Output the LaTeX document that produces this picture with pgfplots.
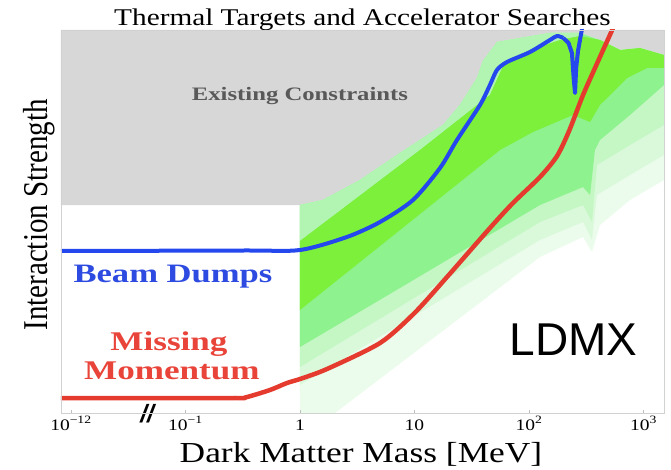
\documentclass[border=0pt]{standalone}
\usepackage{pgfplots}
\pgfplotsset{compat=1.18}
\usepackage{fontspec}
\setmainfont{Liberation Serif}
\newfontfamily\srf{Liberation Serif}[FakeStretch=1.22]
\newfontfamily\bsrf{Liberation Serif}[FakeStretch=1.3]
\newfontfamily\sans{Liberation Sans}
\definecolor{cgray}{HTML}{D7D7D7}
\definecolor{gbright}{HTML}{7CF03A}
\definecolor{gmed}{HTML}{8EF28E}
\definecolor{gband}{HTML}{B2F5B2}
\definecolor{gtwo}{HTML}{C4F7C4}
\definecolor{gthree}{HTML}{DAF9DA}
\definecolor{gfour}{HTML}{ECFCEC}
\definecolor{cblue}{HTML}{2448EE}
\definecolor{cred}{HTML}{E53A2E}
\definecolor{tblue}{HTML}{2D4BE0}
\definecolor{tred}{HTML}{E8443A}
\begin{document}
\begin{tikzpicture}
\begin{axis}[name=ax, scale only axis, width=603pt, height=383pt,
  xmin=-2.087, xmax=3.179, ymin=0, ymax=383,
  axis line style={draw=black!18, line width=0.8pt},
  ytick=\empty, xtick pos=bottom,
  xtick={-2,-1,0,1,2,3},
  xticklabels={{10\textsuperscript{−12}},{10\textsuperscript{−1}},{1},{10},{10\textsuperscript{2}},{10\textsuperscript{3}}},
  xticklabel style={anchor=base, yshift=-17pt, font={\srf\fontsize{16}{18}\selectfont}},
  tick style={draw=black!25}, major tick length=3pt,
  clip mode=individual, axis on top]
% existing constraints
\addplot[fill=cgray, draw=none] coordinates {(-2.087,208) (0,208) (0.20,213) (0.524,233) (0.873,260) (1.249,288) (1.397,308) (1.546,335) (1.598,352) (1.721,371) (1.921,375) (2.183,380) (2.445,380) (2.620,373) (2.795,363) (2.969,365) (3.179,358) (3.179,383) (-2.087,383)} --cycle;
% palest band
\addplot[fill=gfour, draw=none] coordinates {(0,208) (0.20,213) (0.524,233) (0.873,260) (1.249,288) (1.397,308) (1.546,335) (1.598,352) (1.721,371) (1.921,375) (2.183,380) (2.445,380) (2.620,373) (2.795,363) (2.969,365) (3.179,358)
 (3.179,233) (2.882,213) (2.620,188) (2.550,161) (2.472,176) (2.096,156) (0.306,0) (0,0)} --cycle;
\addplot[fill=gthree, draw=none] coordinates {(0,208) (0.20,213) (0.524,233) (0.873,260) (1.249,288) (1.397,308) (1.546,335) (1.598,352) (1.721,371) (1.921,375) (2.183,380) (2.445,380) (2.620,373) (2.795,363) (2.969,365) (3.179,358)
 (3.179,258) (2.882,238) (2.594,218) (2.550,173) (2.472,191) (2.096,173) (0,28)} --cycle;
\addplot[fill=gtwo, draw=none] coordinates {(0,208) (0.20,213) (0.524,233) (0.873,260) (1.249,288) (1.397,308) (1.546,335) (1.598,352) (1.721,371) (1.921,375) (2.183,380) (2.445,380) (2.620,373) (2.795,363) (2.969,365) (3.179,358)
 (3.179,288) (2.882,268) (2.594,248) (2.550,191) (2.472,208) (2.096,191) (0,46)} --cycle;
\addplot[fill=gmed, draw=none] coordinates {(0,208) (0.20,213) (0.524,233) (0.873,260) (1.249,288) (1.397,308) (1.546,335) (1.598,352) (1.721,371) (1.921,375) (2.183,380) (2.445,380) (2.620,373) (2.795,363) (2.969,365) (3.179,358)
 (3.179,328) (2.882,298) (2.620,273) (2.576,263) (2.533,218) (2.472,226) (2.096,208) (0.681,112) (0,66)} --cycle;
% light band above the bright band
\addplot[fill=gband, draw=none] coordinates {(0,208) (0.20,213) (0.524,233) (0.873,260) (1.249,288) (1.397,308) (1.546,335) (1.598,352) (1.721,371) (1.921,375) (2.183,380) (2.445,380)
 (2.445,377) (2.271,373) (2.009,363) (1.790,351) (1.659,318) (1.048,263) (0,172)} --cycle;
% bright band
\addplot[fill=gbright, draw=none] coordinates {(0,172) (1.048,263) (1.659,318) (1.790,351) (2.009,363) (2.271,373) (2.445,377) (2.620,373) (2.795,363) (2.969,365) (3.179,358)
 (3.179,345) (3.031,345) (2.856,335) (2.620,308) (2.533,291) (2.384,298) (2.035,281) (1.747,263) (1.223,215) (0,103)} --cycle;
% beam dumps
\addplot[cblue, line width=4pt, line join=round, smooth, tension=0.45] coordinates {(-2.087,162) (-0.5,162.5) (0,163) (0.41,176) (0.699,191) (0.987,213) (1.223,245) (1.371,273) (1.572,308) (1.659,328) (1.720,343) (1.808,351) (2.009,361) (2.183,373) (2.245,377) (2.300,375)};
\addplot[cblue, line width=4pt, line join=round] coordinates {(2.300,375) (2.345,370) (2.375,360) (2.390,335) (2.402,320) (2.412,345) (2.428,362) (2.472,390)};
% missing momentum
\addplot[cred, line width=4.5pt, line join=round, smooth, tension=0.45] coordinates {(-2.087,15) (-0.6,15) (-0.48,15.5) (-0.262,23) (-0.114,30) (0,34) (0.236,44) (0.699,70) (1.0,100) (1.284,136) (1.659,185) (1.860,210) (2.096,236) (2.245,257) (2.350,282) (2.472,318) (2.600,351) (2.734,385) (2.75,390)};
% texts
\node[anchor=base, font={\srf\fontsize{24}{28}\selectfont}] at (axis cs:0.546,387) {Thermal Targets and Accelerator Searches};
\node[anchor=base, font={\bsrf\bfseries\fontsize{19}{22}\selectfont}, text=black!65] at (axis cs:0,312) {Existing Constraints};
\node[anchor=base, font={\bsrf\bfseries\fontsize{26.6}{30}\selectfont}, text=tblue] at (axis cs:-1.109,131) {Beam Dumps};
\node[anchor=base, font={\bsrf\bfseries\fontsize{27}{30}\selectfont}, text=tred] at (axis cs:-1.144,63) {Missing};
\node[anchor=base, font={\bsrf\bfseries\fontsize{27}{30}\selectfont}, text=tred] at (axis cs:-1.118,34) {Momentum};
\node[anchor=base, font={\sans\fontsize{46}{50}\selectfont}] at (axis cs:2.389,58) {LDMX};
\node[anchor=base, font={\srf\fontsize{29}{32}\selectfont}] at (axis cs:0.533,-49) {Dark Matter Mass [MeV]};
\node[anchor=base, rotate=90, font={\fontsize{29}{32}\selectfont}] at (axis cs:-2.201,198) {\scalebox{1}[1.2]{Interaction Strength}};
\node[font={\sans\bfseries\itshape\fontsize{25}{26}\selectfont}, inner sep=0pt] at (axis cs:-1.334,-1) {//};
\end{axis}
\pgfresetboundingbox
\path ([xshift=-61pt,yshift=-56pt]ax.south west) rectangle ([xshift=7pt,yshift=30pt]ax.north east);
\end{tikzpicture}
\end{document}
